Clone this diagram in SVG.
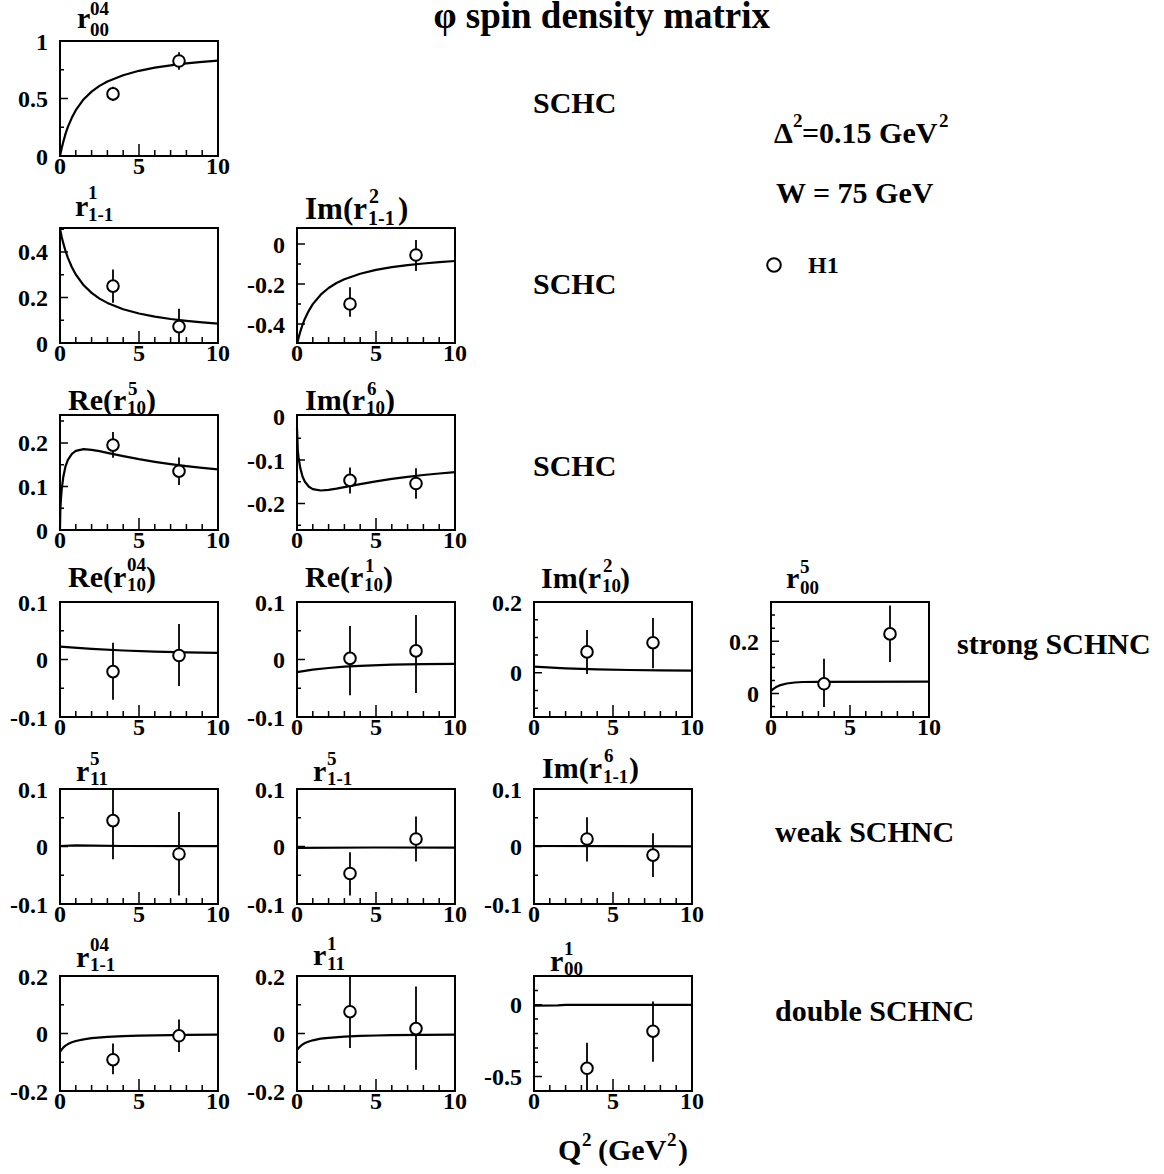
<svg xmlns="http://www.w3.org/2000/svg" xmlns:xlink="http://www.w3.org/1999/xlink" width="1164" height="1174" viewBox="0 0 1164 1174">
<style>
text{font-family:"Liberation Serif","Times New Roman",serif;font-weight:bold;fill:#000}
.n{font-size:24px}
.ya{text-anchor:end}
.xa{text-anchor:middle}
.t{font-size:30px}
.s{font-size:19px}
.lab{font-size:30px}
.fr{fill:none;stroke:#000;stroke-width:2}
.tk{fill:none;stroke:#000;stroke-width:1.5}
.cv{fill:none;stroke:#000;stroke-width:2.2;stroke-linejoin:round}
.eb{fill:none;stroke:#000;stroke-width:1.8}
.pt{fill:#fff;stroke:#000;stroke-width:2}
</style>
<defs>
<path id="xt" class="tk" d="M15.8 0v-6M31.6 0v-6M47.4 0v-6M63.2 0v-6M79 0v-12M94.8 0v-6M110.6 0v-6M126.4 0v-6M142.2 0v-6"/>
<g id="xl" class="n xa"><text x="0" y="0">0</text><text x="79" y="0">5</text><text x="158" y="0">10</text></g>
</defs>
<rect width="1164" height="1174" fill="#fff"/>
<text id="title" x="770" y="28" font-size="37" text-anchor="end">φ spin density matrix</text>

<!-- Row 1 -->
<g id="p-r00-04">
<rect class="fr" x="60" y="41" width="158" height="115"/>
<use href="#xt" x="60" y="156"/>
<path class="tk" d="M60 98.5h8M60 127.25h4M60 69.75h4"/>
<use href="#xl" x="60" y="174"/>
<g class="n ya"><text x="48" y="49.5">1</text><text x="48" y="107">0.5</text><text x="48" y="164.5">0</text></g>
<polyline class="cv" points="60,156 61.6,148.6 63.2,142.2 65.5,133.9 67.9,126.9 71.9,117.6 75.8,110.2 83.7,99.2 91.6,91.6 99.5,85.9 107.4,81.5 123.2,75.2 139,70.8 154.8,67.7 170.6,65.3 186.4,63.4 202.2,61.8 218,60.6"/>
<path class="eb" d="M113 86.8V101M179 52.3V69.7"/>
<circle class="pt" cx="113" cy="93.9" r="5.8"/><circle class="pt" cx="179" cy="61" r="5.8"/>
<text class="t" x="77" y="28">r</text><text class="s" x="90" y="15">04</text><text class="s" x="90" y="36">00</text>
</g>

<!-- Row 2 -->
<g id="p-r1-1-1">
<rect class="fr" x="60" y="228" width="158" height="115"/>
<use href="#xt" x="60" y="343"/>
<path class="tk" d="M60 297.5h8M60 251.9h8M60 320.2h4M60 274.7h4M60 229.2h4"/>
<use href="#xl" x="60" y="361"/>
<g class="n ya"><text x="48" y="260.4">0.4</text><text x="48" y="306">0.2</text><text x="48" y="351.5">0</text></g>
<polyline class="cv" points="60,229.1 61.6,236.5 63.2,242.9 65.5,251 67.9,257.9 71.9,267.2 75.8,274.5 83.7,285.3 91.6,292.9 99.5,298.6 107.4,302.9 123.2,309.2 139,313.5 154.8,316.6 170.6,319 186.4,320.8 202.2,322.3 218,323.6"/>
<path class="eb" d="M113 269.4V302.7M179 308.8V343"/>
<circle class="pt" cx="113" cy="286.1" r="5.8"/><circle class="pt" cx="179" cy="326.6" r="5.8"/>
<text class="t" x="75" y="216">r</text><text class="s" x="88" y="199">1</text><text class="s" x="88" y="221">1-1</text>
</g>

<g id="p-im-r1-1-2">
<rect class="fr" x="297" y="228" width="158" height="115"/>
<use href="#xt" x="297" y="343"/>
<path class="tk" d="M297 244h8M297 284h8M297 324h8M297 264h4M297 304h4"/>
<use href="#xl" x="297" y="361"/>
<g class="n ya"><text x="285" y="252.5">0</text><text x="285" y="292.5">-0.2</text><text x="285" y="332.5">-0.4</text></g>
<polyline class="cv" points="297.5,342.5 298.6,337.6 300.2,332 302.5,324.8 304.9,318.7 308.9,310.6 312.8,304.1 320.7,294.7 328.6,288 336.5,283 344.4,279.2 360.2,273.7 376,269.9 391.8,267.2 407.6,265.1 423.4,263.5 439.2,262.1 455,261"/>
<path class="eb" d="M350 287.3V316.7M416 240V271"/>
<circle class="pt" cx="350" cy="304" r="5.8"/><circle class="pt" cx="416" cy="255" r="5.8"/>
<text x="305" y="219" font-size="31">Im(r</text><text x="369" y="203" font-size="20">2</text><text x="368" y="225" font-size="20">1-1</text><text x="398" y="219" font-size="31">)</text>
</g>

<!-- Row 3 -->
<g id="p-re-r10-5">
<rect class="fr" x="60" y="415" width="158" height="115"/>
<use href="#xt" x="60" y="530"/>
<path class="tk" d="M60 486.4h8M60 442.9h8M60 508.2h4M60 464.7h4M60 421.1h4"/>
<use href="#xl" x="60" y="548"/>
<g class="n ya"><text x="48" y="451.4">0.2</text><text x="48" y="494.9">0.1</text><text x="48" y="538.5">0</text></g>
<polyline class="cv" points="60,530 60.3,511.3 60.8,501 61.6,490.4 63.2,477.5 65.5,466.3 67.9,459.8 71.9,453.8 75.8,450.9 83.7,449.2 91.6,449.8 99.5,451.2 107.4,452.9 123.2,456.2 139,459.2 154.8,461.8 170.6,464.1 186.4,466.1 202.2,467.8 218,469.3"/>
<path class="eb" d="M113 432V457.8M179 457.5V485"/>
<circle class="pt" cx="113" cy="445.1" r="5.8"/><circle class="pt" cx="179" cy="471.2" r="5.8"/>
<text class="t" x="68" y="410">Re(r</text><text class="s" x="128" y="395">5</text><text class="s" x="127" y="414">10</text><text class="t" x="146" y="410">)</text>
</g>

<g id="p-im-r10-6">
<rect class="fr" x="297" y="415" width="158" height="115"/>
<use href="#xt" x="297" y="530"/>
<path class="tk" d="M297 460h8M297 503.5h8M297 438.3h4M297 481.8h4M297 525.3h4"/>
<use href="#xl" x="297" y="548"/>
<g class="n ya"><text x="285" y="425">0</text><text x="285" y="468.5">-0.1</text><text x="285" y="512">-0.2</text></g>
<polyline class="cv" points="297,428 297.5,441 297.8,450.3 298.6,457.7 300.2,467.6 302.5,476.5 304.9,481.8 308.9,486.8 312.8,489.1 320.7,490.5 328.6,489.9 336.5,488.6 344.4,487.1 360.2,484.1 376,481.3 391.8,478.9 407.6,476.8 423.4,475 439.2,473.5 455,472.1"/>
<path class="eb" d="M350 467.4V493.5M416 468.3V498.7"/>
<circle class="pt" cx="350" cy="480.4" r="5.8"/><circle class="pt" cx="416" cy="483.5" r="5.8"/>
<text class="t" x="305" y="410">Im(r</text><text class="s" x="367" y="395">6</text><text class="s" x="366" y="414">10</text><text class="t" x="385" y="410">)</text>
</g>

<!-- Row 4 -->
<g id="p-re-r10-04">
<rect class="fr" x="60" y="602" width="158" height="115"/>
<use href="#xt" x="60" y="717"/>
<path class="tk" d="M60 659.5h8M60 630.75h4M60 688.25h4"/>
<use href="#xl" x="60" y="735"/>
<g class="n ya"><text x="48" y="610.5">0.1</text><text x="48" y="668">0</text><text x="48" y="725.5">-0.1</text></g>
<polyline class="cv" points="60,646.6 91.6,648.9 123.2,650.5 154.8,651.6 186.4,652.3 218,652.8"/>
<path class="eb" d="M113 642.8V699.8M179 624V686"/>
<circle class="pt" cx="113" cy="671.6" r="5.8"/><circle class="pt" cx="179" cy="655.5" r="5.8"/>
<text class="t" x="68" y="587">Re(r</text><text class="s" x="127" y="571">04</text><text class="s" x="127" y="591">10</text><text class="t" x="146" y="587">)</text>
</g>

<g id="p-re-r10-1">
<rect class="fr" x="297" y="602" width="158" height="115"/>
<use href="#xt" x="297" y="717"/>
<path class="tk" d="M297 659.5h8M297 630.75h4M297 688.25h4"/>
<use href="#xl" x="297" y="735"/>
<g class="n ya"><text x="285" y="610.5">0.1</text><text x="285" y="668">0</text><text x="285" y="725.5">-0.1</text></g>
<polyline class="cv" points="297,672.2 312.8,669.7 328.6,668 344.4,666.7 360.2,665.8 391.8,664.7 423.4,664.2 455,663.8"/>
<path class="eb" d="M350 626V695.2M416 615V693"/>
<circle class="pt" cx="350" cy="658.4" r="5.8"/><circle class="pt" cx="416" cy="650.9" r="5.8"/>
<text class="t" x="305" y="587">Re(r</text><text class="s" x="365" y="572">1</text><text class="s" x="364" y="591">10</text><text class="t" x="383" y="587">)</text>
</g>

<g id="p-im-r10-2">
<rect class="fr" x="534" y="602" width="158" height="115"/>
<use href="#xt" x="534" y="717"/>
<path class="tk" d="M534 672.8h8M534 619.7h4M534 637.4h4M534 655.1h4M534 690.5h4M534 708.2h4"/>
<use href="#xl" x="534" y="735"/>
<g class="n ya"><text x="522" y="610.5">0.2</text><text x="522" y="681.3">0</text></g>
<polyline class="cv" points="534,666.6 565.6,668.3 597.2,669.4 628.8,670 660.4,670.4 692,670.7"/>
<path class="eb" d="M587 630V673.9M653 618V668.2"/>
<circle class="pt" cx="587" cy="651.9" r="5.8"/><circle class="pt" cx="653" cy="642.7" r="5.8"/>
<text class="t" x="541" y="588">Im(r</text><text class="s" x="603" y="572">2</text><text class="s" x="602" y="592">10</text><text class="t" x="620" y="588">)</text>
</g>

<g id="p-r00-5">
<rect class="fr" x="771" y="602" width="158" height="115"/>
<use href="#xt" x="771" y="717"/>
<path class="tk" d="M771 693.5h8M771 641.2h8M771 680.4h4M771 667.4h4M771 654.3h4M771 628.2h4M771 615.1h4M771 706.6h4"/>
<use href="#xl" x="771" y="735"/>
<g class="n ya"><text x="759" y="649.7">0.2</text><text x="759" y="702">0</text></g>
<polyline class="cv" points="771,690.9 773.4,688.9 775.7,687.3 780.5,685.1 786.8,683.5 794.7,682.5 802.6,682 818.4,681.8 929,681.7"/>
<path class="eb" d="M824 658.7V707.1M890 605.4V661.9"/>
<circle class="pt" cx="824" cy="683.8" r="5.8"/><circle class="pt" cx="890" cy="633.9" r="5.8"/>
<text class="t" x="786" y="588">r</text><text class="s" x="800" y="573">5</text><text class="s" x="800" y="594">00</text>
</g>

<!-- Row 5 -->
<g id="p-r11-5">
<rect class="fr" x="60" y="789" width="158" height="115"/>
<use href="#xt" x="60" y="904"/>
<path class="tk" d="M60 846.5h8M60 817.75h4M60 875.25h4"/>
<use href="#xl" x="60" y="922"/>
<g class="n ya"><text x="48" y="797.5">0.1</text><text x="48" y="855">0</text><text x="48" y="912.5">-0.1</text></g>
<polyline class="cv" points="60,846 75.8,845.4 91.6,845.6 123.2,846 218,846.2"/>
<path class="eb" d="M113 789V859.2M179 812V895.4"/>
<circle class="pt" cx="113" cy="820.6" r="5.8"/><circle class="pt" cx="179" cy="854" r="5.8"/>
<text class="t" x="76" y="781">r</text><text class="s" x="90" y="765">5</text><text class="s" x="90" y="785">11</text>
</g>

<g id="p-r1-1-5">
<rect class="fr" x="297" y="789" width="158" height="115"/>
<use href="#xt" x="297" y="904"/>
<path class="tk" d="M297 846.5h8M297 817.75h4M297 875.25h4"/>
<use href="#xl" x="297" y="922"/>
<g class="n ya"><text x="285" y="797.5">0.1</text><text x="285" y="855">0</text><text x="285" y="912.5">-0.1</text></g>
<polyline class="cv" points="297,847.8 376,847.5 455,847.6"/>
<path class="eb" d="M350 852.3V895.4M416 816.6V861.5"/>
<circle class="pt" cx="350" cy="873.5" r="5.8"/><circle class="pt" cx="416" cy="839" r="5.8"/>
<text class="t" x="313" y="781">r</text><text class="s" x="327" y="765">5</text><text class="s" x="327" y="785">1-1</text>
</g>

<g id="p-im-r1-1-6">
<rect class="fr" x="534" y="789" width="158" height="115"/>
<use href="#xt" x="534" y="904"/>
<path class="tk" d="M534 846.5h8M534 817.75h4M534 875.25h4"/>
<use href="#xl" x="534" y="922"/>
<g class="n ya"><text x="522" y="797.5">0.1</text><text x="522" y="855">0</text><text x="522" y="912.5">-0.1</text></g>
<polyline class="cv" points="534,846 613,846.2 692,846.3"/>
<path class="eb" d="M587 817.2V861.5M653 833.3V877"/>
<circle class="pt" cx="587" cy="839" r="5.8"/><circle class="pt" cx="653" cy="855.1" r="5.8"/>
<text class="t" x="542" y="778">Im(r</text><text class="s" x="604" y="762">6</text><text class="s" x="603" y="783">1-1</text><text class="t" x="629" y="778">)</text>
</g>

<!-- Row 6 -->
<g id="p-r1-1-04">
<rect class="fr" x="60" y="976" width="158" height="115"/>
<use href="#xt" x="60" y="1091"/>
<path class="tk" d="M60 1033.5h8M60 1004.75h4M60 1062.25h4"/>
<use href="#xl" x="60" y="1109"/>
<g class="n ya"><text x="48" y="984.5">0.2</text><text x="48" y="1042">0</text><text x="48" y="1099.5">-0.2</text></g>
<polyline class="cv" points="60,1051.9 61.6,1049.6 63.2,1047.7 65.5,1045.7 67.9,1044.1 71.9,1042.3 75.8,1041 83.7,1039.3 91.6,1038.2 107.4,1036.9 123.2,1036.2 139,1035.7 154.8,1035.4 186.4,1034.9 218,1034.7"/>
<path class="eb" d="M113 1043.6V1074.3M179 1019.4V1051.9"/>
<circle class="pt" cx="113" cy="1059.7" r="5.8"/><circle class="pt" cx="179" cy="1035.8" r="5.8"/>
<text class="t" x="76" y="967">r</text><text class="s" x="90" y="951">04</text><text class="s" x="90" y="971">1-1</text>
</g>

<g id="p-r11-1">
<rect class="fr" x="297" y="976" width="158" height="115"/>
<use href="#xt" x="297" y="1091"/>
<path class="tk" d="M297 1033.5h8M297 1004.75h4M297 1062.25h4"/>
<use href="#xl" x="297" y="1109"/>
<g class="n ya"><text x="285" y="984.5">0.2</text><text x="285" y="1042">0</text><text x="285" y="1099.5">-0.2</text></g>
<polyline class="cv" points="297,1050.2 298.6,1048.1 300.2,1046.4 302.5,1044.5 304.9,1043.1 308.9,1041.5 312.8,1040.3 320.7,1038.7 328.6,1037.8 344.4,1036.6 360.2,1035.9 376,1035.5 391.8,1035.2 423.4,1034.8 455,1034.6"/>
<path class="eb" d="M350 976V1047.9M416 986.6V1069.7"/>
<circle class="pt" cx="350" cy="1011.7" r="5.8"/><circle class="pt" cx="416" cy="1028.6" r="5.8"/>
<text class="t" x="313" y="965">r</text><text class="s" x="327" y="950">1</text><text class="s" x="327" y="970">11</text>
</g>

<g id="p-r00-1">
<rect class="fr" x="534" y="976" width="158" height="115"/>
<use href="#xt" x="534" y="1091"/>
<path class="tk" d="M534 1004.75h8M534 1076.6h8M534 990.4h4M534 1019.1h4M534 1033.5h4M534 1047.9h4M534 1062.3h4"/>
<use href="#xl" x="534" y="1109"/>
<g class="n ya"><text x="522" y="1013.3">0</text><text x="522" y="1085.1">-0.5</text></g>
<polyline class="cv" points="534,1005.6 557.7,1005.3 565.6,1004.8 692,1004.8"/>
<path class="eb" d="M587 1042.8V1091M653 1001.4V1061.7"/>
<circle class="pt" cx="587" cy="1068.3" r="5.8"/><circle class="pt" cx="653" cy="1031.2" r="5.8"/>
<text class="t" x="550" y="971">r</text><text class="s" x="564" y="955">1</text><text class="s" x="564" y="975">00</text>
</g>

<!-- Annotations -->
<g id="labels">
<text class="lab" x="533" y="113">SCHC</text>
<text class="lab" x="533" y="294">SCHC</text>
<text class="lab" x="533" y="476">SCHC</text>
<text class="lab" x="957" y="654">strong SCHNC</text>
<text class="lab" x="775" y="842">weak SCHNC</text>
<text class="lab" x="775" y="1021">double SCHNC</text>
</g>
<g id="info">
<text class="lab" x="774" y="143">Δ</text><text class="s" x="793" y="127">2</text><text class="lab" x="802" y="143">=0.15 GeV</text><text class="s" x="939" y="127">2</text>
<text class="lab" x="776" y="203">W = 75 GeV</text>
</g>
<g id="legend">
<circle class="pt" cx="774" cy="265" r="6.8"/>
<text x="808" y="273" font-size="24">H1</text>
</g>
<g id="xaxis-title">
<text class="lab" x="558" y="1160">Q</text><text class="s" x="582" y="1146">2</text><text class="lab" x="598" y="1160">(GeV</text><text class="s" x="667" y="1146">2</text><text class="lab" x="678" y="1160">)</text>
</g>
</svg>
